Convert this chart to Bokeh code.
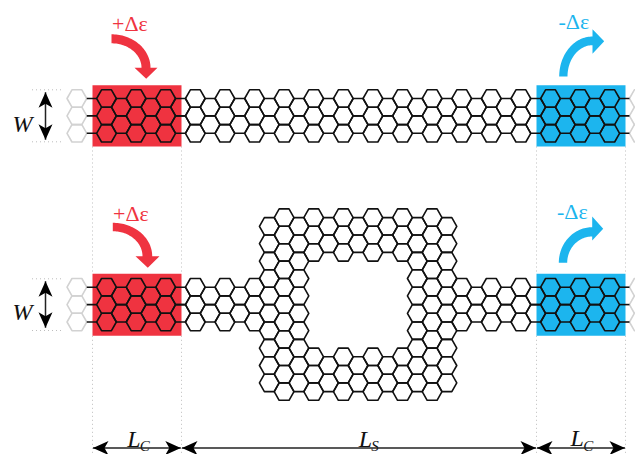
from bokeh.core.properties import value
from bokeh.embed import file_html
from bokeh.models import Range1d
from bokeh.plotting import figure
from bokeh.resources import INLINE
import numpy as np

RED = "#EF3340"
BLUE = "#1CB5EE"
DOT = "#BDBDBD"
GHOST = "#D2D2D2"

# lattice: column number -> rows of hexagons in it
ribbon_even = [0, 1, 2]
ribbon_odd = [0.5, 1.5]
full_even = [-4, -3, -2, -1, 0, 1, 2, 3, 4, 5, 6]
full_odd = [-3.5, -2.5, -1.5, -0.5, 0.5, 1.5, 2.5, 3.5, 4.5, 5.5]
hole_even = [-4, -3, -2, 4, 5, 6]
hole_odd = [-3.5, -2.5, 4.5, 5.5]

ribbon_cols = list(range(0, 35))
body_cols_full = [11, 12, 13, 21, 22, 23]
body_cols_hole = [14, 15, 16, 17, 18, 19, 20]
ghost_cols = [-2, 36]
stub_cols = [-1, 35]
stub_rows = [0, 1, 2]

# lattice pitch and where it sits on the page
COL_X0, COL_DX = 106.0, 14.8
ROW_DY = 17.4
ROW_Y0_TOP, ROW_Y0_BOTTOM = 98.0, 286.7
HEX_A = 9.87

# top / bottom of the coloured contact pads for each ribbon
pad_left = [92, 181]
pad_right = [536, 625]
pad_y_top = [84.7, 146]
pad_y_bottom = [273.3, 335.3]


def hex_outline(col, row, y0):
    cx = COL_X0 + col * COL_DX
    cy = y0 + row * ROW_DY
    xs = [cx - HEX_A, cx - HEX_A / 2, cx + HEX_A / 2, cx + HEX_A, cx + HEX_A / 2, cx - HEX_A / 2]
    ys = [cy, cy - ROW_DY / 2, cy - ROW_DY / 2, cy, cy + ROW_DY / 2, cy + ROW_DY / 2]
    return xs, ys


def rows_in(col, even, odd):
    return even if col % 2 == 0 else odd


def curved_arrow(cx, cy, rx_out, ry_out, rx_in, ry_in, head, down):
    # quarter ellipse shaft closed with a triangular head
    t = np.linspace(0, np.pi / 2, 40)
    if down:
        # starts at the left going right, ends pointing down
        xo, yo = cx + rx_out * np.sin(t), cy - ry_out * np.cos(t)
        xi, yi = cx + rx_in * np.sin(t), cy - ry_in * np.cos(t)
    else:
        # starts at the bottom going up, ends pointing right
        xo, yo = cx - rx_out * np.cos(t), cy - ry_out * np.sin(t)
        xi, yi = cx - rx_in * np.cos(t), cy - ry_in * np.sin(t)
    xs = list(xo) + [head[0][0], head[1][0], head[2][0]] + list(xi[::-1])
    ys = list(yo) + [head[0][1], head[1][1], head[2][1]] + list(yi[::-1])
    return xs, ys


p = figure(width=635, height=454, x_range=Range1d(0, 635), y_range=Range1d(454, 0),
           x_axis_type=None, y_axis_type=None, toolbar_location=None, output_backend="svg",
           min_border=0, outline_line_color=None)
p.grid.visible = False

# dotted guides
for x in pad_left + pad_right:
    p.line([x, x], [pad_y_top[1], pad_y_bottom[0]], line_color=DOT, line_width=1, line_dash="1 3")
    p.line([x, x], [pad_y_bottom[1], 458], line_color=DOT, line_width=1, line_dash="1 3")
for y in [89.3, 141.3, 278.3, 330]:
    p.line([31.5, 63], [y, y], line_color=DOT, line_width=1, line_dash="1 3")

# contact pads
for y_pair in (pad_y_top, pad_y_bottom):
    p.quad(left=pad_left[0], right=pad_left[1], top=y_pair[0], bottom=y_pair[1], fill_color=RED, line_color=None)
    p.quad(left=pad_right[0], right=pad_right[1], top=y_pair[0], bottom=y_pair[1], fill_color=BLUE, line_color=None)

# hexagons
cells_top = [(c, r) for c in ribbon_cols for r in rows_in(c, ribbon_even, ribbon_odd)]
cells_bottom = [(c, r) for c in ribbon_cols if c < 11 or c > 23 for r in rows_in(c, ribbon_even, ribbon_odd)]
cells_bottom += [(c, r) for c in body_cols_full for r in rows_in(c, full_even, full_odd)]
cells_bottom += [(c, r) for c in body_cols_hole for r in rows_in(c, hole_even, hole_odd)]

for cells, y0 in ((cells_top, ROW_Y0_TOP), (cells_bottom, ROW_Y0_BOTTOM)):
    outlines = [hex_outline(c, r, y0) for c, r in cells]
    p.patches([o[0] for o in outlines], [o[1] for o in outlines], fill_color=None,
              line_color="#111111", line_width=1.6, line_join="round")
    ghosts = [hex_outline(c, r, y0) for c in ghost_cols for r in ribbon_even]
    p.patches([o[0] for o in ghosts], [o[1] for o in ghosts], fill_color=None,
              line_color=GHOST, line_width=1.6, line_join="round")
    for c in stub_cols:
        cx = COL_X0 + c * COL_DX
        for r in stub_rows:
            y = y0 + r * ROW_DY
            p.line([cx - HEX_A / 2, cx + HEX_A / 2], [y, y], line_color="#111111", line_width=1.6)

# curved arrows
arrows = [
    (RED, (111, 67.3, 39, 33.5, 30, 24.5, [(157, 67.3), (145.7, 78.3), (134, 67.3)], True)),
    (RED, (112.3, 255.7, 39.4, 33.4, 29.7, 25, [(159, 255.7), (147.3, 267.3), (135, 255.7)], True)),
    (BLUE, (592, 76, 33.3, 40, 25, 31.3, [(592, 28.7), (603.7, 40.7), (592, 53.3)], False)),
    (BLUE, (591.7, 262.3, 33.4, 35.6, 25, 26.3, [(591.7, 216), (602.7, 228.3), (591.7, 240)], False)),
]
for color, args in arrows:
    xs, ys = curved_arrow(*args)
    p.patch(xs, ys, fill_color=color, line_color=None)

serif = value("Liberation Serif")

# +/- labels
p.text([111.5, 112.5], [23, 213], text=["+Δε", "+Δε"], text_color=RED, text_font=serif,
       text_font_size="22px", text_baseline="alphabetic", text_align="left")
p.text([558, 556.5], [21, 210.7], text=["-Δε", "-Δε"], text_color=BLUE, text_font=serif,
       text_font_size="22px", text_baseline="alphabetic", text_align="left")

# W and L labels
p.text([12, 12], [123, 311.7], text=["W", "W"], text_color="#111111", text_font=serif,
       text_font_style="italic", text_font_size="24px", text_baseline="alphabetic")
p.text([126.7, 358.3, 570], [438.3, 438.3, 437.7], text=["L", "L", "L"], text_color="#111111", text_font=serif,
       text_font_style="italic", text_font_size="24px", text_baseline="alphabetic")
p.text([139.3, 370.7, 582.7], [445, 445.7, 445], text=["C", "S", "C"], text_color="#111111", text_font=serif,
       text_font_style="italic", text_font_size="15px", text_baseline="alphabetic")


def head(tip_x, tip_y, dir_x, dir_y):
    # notched arrow head pointing along (dir_x, dir_y)
    length, half, notch = 15.5, 7.0, 11.5
    nx, ny = -dir_y, dir_x
    xs = [tip_x, tip_x - dir_x * length + nx * half, tip_x - dir_x * notch, tip_x - dir_x * length - nx * half]
    ys = [tip_y, tip_y - dir_y * length + ny * half, tip_y - dir_y * notch, tip_y - dir_y * length - ny * half]
    p.patch(xs, ys, fill_color="black", line_color=None)


def double_arrow(x0, y0, x1, y1):
    p.line([x0, x1], [y0, y1], line_color="#222222", line_width=1.5)
    d = np.hypot(x1 - x0, y1 - y0)
    dx, dy = (x1 - x0) / d, (y1 - y0) / d
    head(x1, y1, dx, dy)
    head(x0, y0, -dx, -dy)


double_arrow(45, 91.7, 45, 139.3)
double_arrow(45, 280.7, 45, 327.3)
double_arrow(92.5, 447.5, 180.3, 447.5)
double_arrow(181.5, 447.5, 535.5, 447.5)
double_arrow(536.5, 447.5, 624.5, 447.5)

open("out.html", "w").write(file_html(p, INLINE))
